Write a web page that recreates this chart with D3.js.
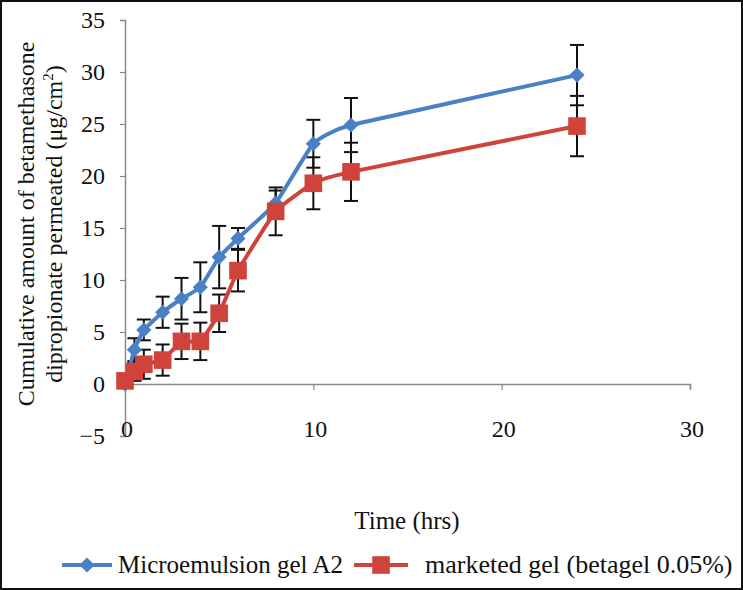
<!DOCTYPE html>
<html>
<head>
<meta charset="utf-8">
<script src="https://cdn.jsdelivr.net/npm/d3@7"></script>
<style>
  body { margin: 0; background: #fff; }
  svg text { font-family: "Liberation Serif", "Times New Roman", serif; fill: #111; }
</style>
</head>
<body>
<svg id="chart" width="743" height="590"></svg>
<script>
// time points (hrs)
const hours = [0, 0.5, 1, 2, 3, 4, 5, 6, 8, 10, 12, 24];

// Microemulsion gel A2
const microMean = [0, 3.3, 5.2, 6.9, 8.2, 9.3, 12.2, 14.0, 17.4, 23.1, 24.9, 29.7];
const microErr  = [0, 1.1, 1.0, 1.5, 2.0, 2.4, 3.0, 1.0, 1.2, 2.3, 2.6, 2.9];

// marketed gel (betagel 0.05%)
const marketMean = [0.3, 1.2, 1.9, 2.3, 4.1, 4.1, 6.8, 10.9, 16.6, 19.3, 20.4, 24.8];
const marketErr  = [0.3, 0.9, 1.4, 1.5, 1.7, 1.8, 1.8, 2.0, 2.3, 2.5, 2.8, 2.9];

const xTicks = [0, 10, 20, 30];
const yTicks = [-5, 0, 5, 10, 15, 20, 25, 30, 35];

const blue = "#4a80c6", red = "#d0433b", axisGrey = "#8a8a8a";

let svg = d3.select("#chart");
let x = d3.scaleLinear().domain([0, 30]).range([125, 690]);
let y = d3.scaleLinear().domain([-5, 35]).range([436, 20]);

// excel style diamond: a square turned 45 degrees
const diamond = {
    draw: function (ctx, size) {
        let r = Math.sqrt(size / 2);
        ctx.moveTo(0, -r);
        ctx.lineTo(r, 0);
        ctx.lineTo(0, r);
        ctx.lineTo(-r, 0);
        ctx.closePath();
    }
};

// frame
svg.append("rect")
    .attr("x", 1).attr("y", 1).attr("width", 741).attr("height", 588)
    .attr("fill", "none").attr("stroke", "#111").attr("stroke-width", 2);

// y axis
let yAxis = svg.append("g")
    .attr("transform", "translate(" + x(0) + ",0)")
    .call(d3.axisLeft(y).tickValues(yTicks).tickSize(5).tickPadding(15)
        .tickFormat(d => d < 0 ? "\u2212" + Math.abs(d) : d));
yAxis.select(".domain").attr("stroke", axisGrey).attr("stroke-width", 1.5);
yAxis.selectAll(".tick line").attr("stroke", axisGrey).attr("stroke-width", 1.2);
yAxis.selectAll("text").style("font-size", "24px").attr("fill", "#111");

// x axis sits at y = 0, labels drawn low
let xAxis = svg.append("g")
    .attr("transform", "translate(0," + y(0) + ")")
    .call(d3.axisBottom(x).tickValues(xTicks).tickSize(6).tickFormat(""));
xAxis.select(".domain").attr("stroke", axisGrey).attr("stroke-width", 1.5);
xAxis.selectAll(".tick line").attr("stroke", axisGrey).attr("stroke-width", 1.2);

svg.selectAll(".xlab")
    .data(xTicks)
    .enter()
    .append("text")
    .attr("class", "xlab")
    .attr("x", d => x(d) + 2)
    .attr("y", y(-5) + 1)
    .attr("text-anchor", "middle")
    .style("font-size", "24px")
    .text(d => d);

// axis titles
svg.append("text")
    .attr("x", 407).attr("y", 529)
    .attr("text-anchor", "middle")
    .style("font-size", "25px")
    .text("Time (hrs)");

let ytitle = svg.append("text")
    .attr("transform", "translate(34,224) rotate(-90)")
    .attr("text-anchor", "middle")
    .style("font-size", "24px");
ytitle.append("tspan").attr("x", 0).attr("dy", 0)
    .text("Cumulative amount of betamethasone");
let l2 = ytitle.append("tspan").attr("x", 0).attr("dy", 28);
l2.append("tspan").text("dipropionate permeated (\u03bcg/cm");
l2.append("tspan").attr("dy", -9).style("font-size", "15px").text("2");
l2.append("tspan").attr("dy", 9).text(")");

// series
let series = [
    { name: "Microemulsion gel A2", mean: microMean, err: microErr, color: blue, symbol: diamond, size: 115, fs: 25 },
    { name: "marketed gel (betagel 0.05%)", mean: marketMean, err: marketErr, color: red, symbol: d3.symbolSquare, size: 310, fs: 26 }
];

let line = d3.line()
    .x(d => x(d.t))
    .y(d => y(d.v))
    .curve(d3.curveCardinal.tension(0.6));

series.forEach(function (s) {
    let pts = hours.map((t, i) => ({ t: t, v: s.mean[i], e: s.err[i] }));
    s.pts = pts;

    let eb = svg.append("g").attr("stroke", "#111").attr("stroke-width", 2);
    pts.filter(p => p.e > 0).forEach(function (p) {
        let cx = x(p.t);
        eb.append("line").attr("x1", cx).attr("x2", cx).attr("y1", y(p.v - p.e)).attr("y2", y(p.v + p.e));
        eb.append("line").attr("x1", cx - 7).attr("x2", cx + 7).attr("y1", y(p.v + p.e)).attr("y2", y(p.v + p.e));
        eb.append("line").attr("x1", cx - 7).attr("x2", cx + 7).attr("y1", y(p.v - p.e)).attr("y2", y(p.v - p.e));
    });
});

series.forEach(function (s) {
    svg.append("path")
        .datum(s.pts)
        .attr("d", line)
        .attr("fill", "none")
        .attr("stroke", s.color)
        .attr("stroke-width", 4);
});

series.forEach(function (s) {
    svg.append("g")
        .selectAll("path")
        .data(s.pts)
        .enter()
        .append("path")
        .attr("transform", d => "translate(" + x(d.t) + "," + y(d.v) + ")")
        .attr("d", d3.symbol().type(s.symbol).size(s.size))
        .attr("fill", s.color);
});

// legend
let legendItems = [
    { s: series[0], x1: 62, x2: 112, tx: 118 },
    { s: series[1], x1: 354, x2: 408, tx: 425 }
];
let ly = 565;
legendItems.forEach(function (it) {
    let g = svg.append("g");
    g.append("line")
        .attr("x1", it.x1).attr("x2", it.x2).attr("y1", ly).attr("y2", ly)
        .attr("stroke", it.s.color).attr("stroke-width", 4);
    g.append("path")
        .attr("transform", "translate(" + ((it.x1 + it.x2) / 2) + "," + ly + ")")
        .attr("d", d3.symbol().type(it.s.symbol).size(it.s.size))
        .attr("fill", it.s.color);
    g.append("text")
        .attr("x", it.tx).attr("y", ly + 8)
        .style("font-size", it.s.fs + "px")
        .text(it.s.name);
});
</script>
</body>
</html>
